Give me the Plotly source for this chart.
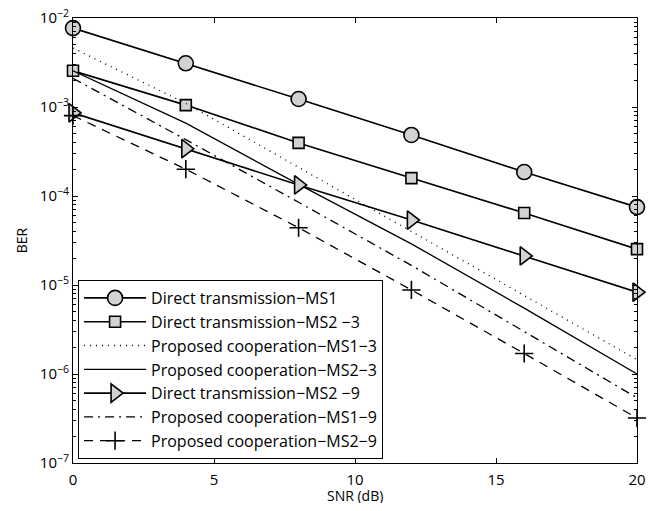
import plotly.graph_objects as go

snr = [0, 4, 8, 12, 16, 20]

direct_ms1 = [7.7e-3, 3.1e-3, 1.23e-3, 4.85e-4, 1.86e-4, 7.5e-5]
direct_ms2_3 = [2.55e-3, 1.05e-3, 3.95e-4, 1.59e-4, 6.45e-5, 2.53e-5]
coop_ms1_3 = [4.6e-3, 1.1e-3, 2.1e-4, 4.0e-5, 7.6e-6, 1.45e-6]
coop_ms2_3 = [2.55e-3, 6.6e-4, 1.35e-4, 2.9e-5, 5.5e-6, 1.0e-6]
direct_ms2_9 = [8.6e-4, 3.4e-4, 1.33e-4, 5.37e-5, 2.12e-5, 8.3e-6]
coop_ms1_9 = [2.1e-3, 4.3e-4, 8.5e-5, 1.66e-5, 3.0e-6, 5.4e-7]
coop_ms2_9 = [8.0e-4, 2.0e-4, 4.4e-5, 8.8e-6, 1.7e-6, 3.2e-7]

names = [
    "Direct transmission−MS1",
    "Direct transmission−MS2 −3",
    "Proposed cooperation−MS1−3",
    "Proposed cooperation−MS2−3",
    "Direct transmission−MS2 −9",
    "Proposed cooperation−MS1−9",
    "Proposed cooperation−MS2−9",
]

x_ticks = [0, 5, 10, 15, 20]
y_ticks = [1e-7, 1e-6, 1e-5, 1e-4, 1e-3, 1e-2]
y_tick_text = ["10<sup>−7</sup>", "10<sup>−6</sup>", "10<sup>−5</sup>", "10<sup>−4</sup>",
               "10<sup>−3</sup>", "10<sup>−2</sup>"]
x_title = "SNR (dB)"
y_title = "BER"

FILL = "#d2d2d2"
fig = go.Figure()

def add(i, y, dash, width, marker=None):
    mode = "lines+markers" if marker else "lines"
    fig.add_trace(go.Scatter(
        x=snr, y=y, name=names[i], mode=mode, legendgroup="g%d" % i,
        line=dict(color="black", width=width, dash=dash),
        marker=marker, cliponaxis=False,
    ))

add(0, direct_ms1, "solid", 1.6,
    dict(symbol="circle", size=15, color=FILL, line=dict(color="black", width=1.6)))
add(1, direct_ms2_3, "solid", 1.6,
    dict(symbol="square", size=11, color=FILL, line=dict(color="black", width=1.6)))
add(2, coop_ms1_3, "1px,5px", 1.3)
add(3, coop_ms2_3, "solid", 1.3)
add(4, direct_ms2_9, "solid", 1.6,
    dict(symbol="triangle-right", size=16, color=FILL, line=dict(color="black", width=1.6)))
add(5, coop_ms1_9, "9px,5px,2px,5px", 1.3)
add(6, coop_ms2_9, "9px,7px", 1.3,
    dict(symbol="cross-thin", size=13, color="black", line=dict(color="black", width=1.6)))

minor_vals = []
for e in range(-7, -2):
    for m in range(2, 10):
        minor_vals.append(m * 10 ** e)

font = "Open Sans, Liberation Sans, sans-serif"
# the page body keeps an 8px margin; the figure is sized to fit inside the window
fig.update_layout(
    width=643, height=495,
    margin=dict(l=65, r=14, t=10, b=40),
    paper_bgcolor="white", plot_bgcolor="white",
    font=dict(family=font, size=14, color="black"),
    showlegend=True,
    legend=dict(
        x=0.009, y=0.009, xanchor="left", yanchor="bottom",
        bgcolor="white", bordercolor="black", borderwidth=1,
        font=dict(family=font, size=16, color="black"),
        tracegroupgap=0, itemwidth=62,
    ),
    xaxis=dict(
        range=[0, 20], tickvals=x_ticks, ticktext=[str(v) for v in x_ticks],
        ticks="inside", ticklen=5, tickcolor="black", automargin=False,
        ticklabeloverflow="allow", ticklabelstandoff=3,
        showline=True, linecolor="black", linewidth=1, mirror="ticks",
        showgrid=False, zeroline=False,
        tickfont=dict(size=15),
    ),
    yaxis=dict(
        type="log", range=[-7, -2], tickvals=y_ticks, ticktext=y_tick_text,
        ticks="inside", ticklen=5, tickcolor="black", automargin=False,
        ticklabeloverflow="allow",
        showline=True, linecolor="black", linewidth=1, mirror="ticks",
        showgrid=False, zeroline=False,
        minor=dict(tickvals=minor_vals, ticks="inside", ticklen=3, tickcolor="black"),
        title=dict(text=y_title, standoff=8, font=dict(size=14)),
        tickfont=dict(size=15),
    ),
    annotations=[dict(
        text=x_title, xref="paper", yref="paper", x=0.5, y=-0.072,
        xanchor="center", yanchor="middle", showarrow=False,
        font=dict(family=font, size=14, color="black"),
    )],
)

fig.write_html("out.html")
